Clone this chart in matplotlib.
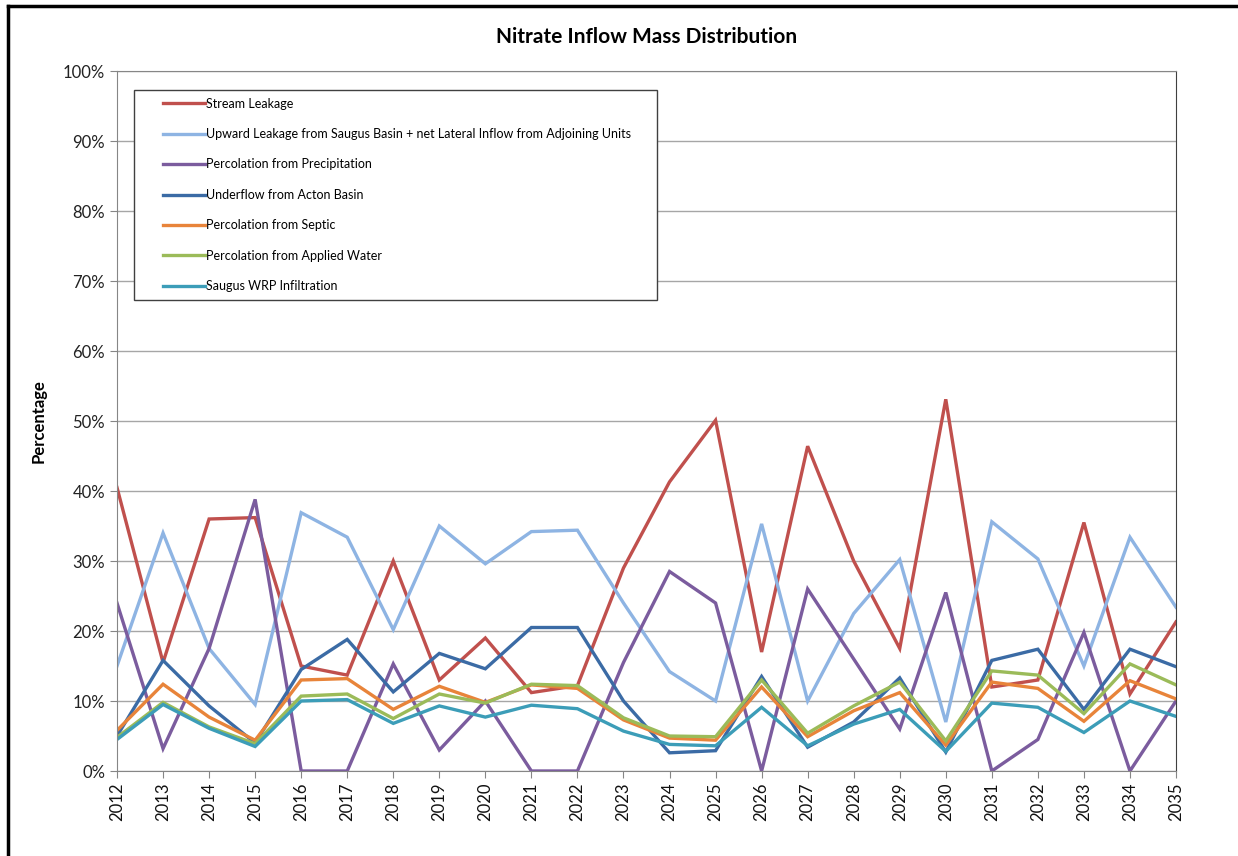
import matplotlib
matplotlib.use('Agg')
import matplotlib.pyplot as plt
from matplotlib.lines import Line2D
from matplotlib.patches import Rectangle
from matplotlib.ticker import PercentFormatter

years = list(range(2012, 2036))

stream = [40.5, 15.5, 36.0, 36.2, 15.0, 13.7, 30.0, 13.0, 19.0, 11.2, 12.2, 29.0,
          41.3, 50.1, 17.0, 46.4, 30.0, 17.5, 53.1, 12.0, 13.0, 35.5, 11.0, 21.3]
upward = [15.0, 34.0, 17.5, 9.5, 36.9, 33.4, 20.2, 35.0, 29.6, 34.2, 34.4, 24.0,
          14.2, 10.0, 35.3, 10.0, 22.5, 30.2, 7.0, 35.6, 30.3, 15.0, 33.4, 23.4]
precip = [24.0, 3.2, 17.5, 38.8, 0.0, 0.0, 15.3, 3.0, 10.0, 0.0, 0.0, 15.5,
          28.5, 24.0, 0.0, 26.0, 16.0, 6.0, 25.5, 0.0, 4.5, 19.8, 0.0, 10.0]
acton = [5.0, 15.8, 9.3, 4.0, 14.5, 18.8, 11.3, 16.8, 14.6, 20.5, 20.5, 10.0,
         2.6, 2.9, 13.5, 3.4, 7.0, 13.3, 2.7, 15.8, 17.4, 8.8, 17.4, 14.9]
septic = [5.8, 12.4, 7.7, 4.4, 13.0, 13.2, 8.8, 12.1, 9.8, 12.3, 11.8, 7.3,
          4.7, 4.4, 12.0, 4.9, 8.6, 11.2, 3.7, 12.7, 11.8, 7.1, 12.9, 10.3]
applied = [4.8, 9.8, 6.3, 3.9, 10.7, 11.0, 7.5, 11.0, 9.7, 12.4, 12.2, 7.6,
           5.0, 4.9, 13.0, 5.4, 9.3, 12.7, 4.3, 14.3, 13.7, 8.2, 15.3, 12.3]
wrp = [4.5, 9.5, 6.1, 3.5, 10.0, 10.2, 6.8, 9.3, 7.7, 9.4, 8.9, 5.7,
       3.8, 3.6, 9.1, 3.6, 6.7, 8.8, 2.8, 9.7, 9.1, 5.5, 10.0, 7.8]

labels = ['Stream Leakage',
          'Upward Leakage from Saugus Basin + net Lateral Inflow from Adjoining Units',
          'Percolation from Precipitation',
          'Underflow from Acton Basin',
          'Percolation from Septic',
          'Percolation from Applied Water',
          'Saugus WRP Infiltration']
series = [stream, upward, precip, acton, septic, applied, wrp]
colors = ['#C0504D', '#8EB4E3', '#7B5C9E', '#3B6BA5', '#E8843A', '#9BBB59', '#3C9DB8']

plt.rcParams['font.family'] = ['Lato', 'DejaVu Sans']

W, H = 1238, 856
fig = plt.figure(figsize=(W/100, H/100), dpi=100)
ax = fig.add_axes([117/W, 1-771/H, (1176-117)/W, 700/H])

for s, c, l in zip(series, colors, labels):
    ax.plot(years, s, color=c, lw=2.4, label=l, solid_joinstyle='miter')

ax.set_xlim(2012, 2035)
ax.set_ylim(0, 100)
ax.set_yticks(range(0, 101, 10))
ax.yaxis.set_major_formatter(PercentFormatter(decimals=0))
ax.set_xticks(years)
ax.set_xticklabels([str(y) for y in years], rotation=90, fontsize=12)
ax.tick_params(axis='y', labelsize=12, length=5, color='#868686', labelcolor='#222222')
ax.tick_params(axis='x', length=5, color='#868686', labelcolor='#111111')
ax.grid(axis='y', color='#A6A6A6', lw=1)
ax.set_axisbelow(True)
for side in ['left', 'bottom', 'top']:
    ax.spines[side].set_color('#868686')
ax.spines['right'].set_color('#404040')

ax.set_ylabel('Percentage', fontsize=12, fontweight='bold', labelpad=12)
ax.set_title('Nitrate Inflow Mass Distribution', fontsize=15, fontweight='bold', pad=20)

# legend box drawn by hand so its size matches the original
box = Rectangle((134/W, 1-300/H), (657-134)/W, 210/H, transform=fig.transFigure,
                facecolor='white', edgecolor='#404040', lw=1, zorder=5)
ax.add_patch(box)
leg = ax.legend(loc='upper left', bbox_to_anchor=(159/W, 1-94/H),
                bbox_transform=fig.transFigure, fontsize=9, frameon=False,
                handlelength=3.4, handletextpad=0.05, labelspacing=1.47,
                borderpad=0.3, borderaxespad=0)
leg.set_zorder(6)

# outer frame of the chart image
fig.add_artist(Line2D([8/W, 8/W], [0, 1-6/H], color='black', lw=2.5,
                      transform=fig.transFigure))
fig.add_artist(Line2D([8/W, 1], [1-6/H, 1-6/H], color='black', lw=2.5,
                      transform=fig.transFigure))

fig.savefig('out.png', dpi=100)
